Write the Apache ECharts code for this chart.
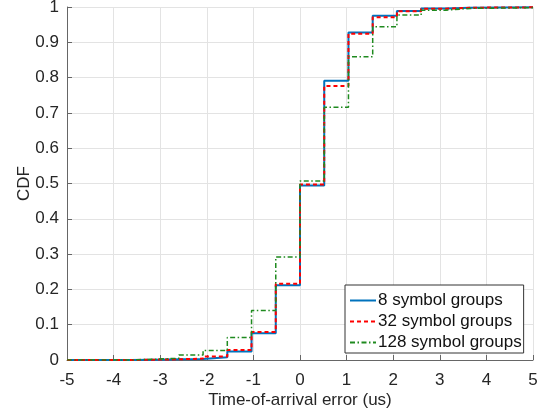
<!DOCTYPE html>
<html>
<head>
<meta charset="utf-8">
<script src="https://cdn.jsdelivr.net/npm/echarts@6/dist/echarts.min.js"></script>
<style>
  html, body { margin: 0; padding: 0; background: #fff; }
  #chart { width: 546px; height: 411px; }
</style>
</head>
<body>
<div id="chart"></div>
<script>
// step edges (us), each value holds from its edge until the next one
const stepEdges = [-5, -3.65, -3.13, -2.6, -2.08, -1.56, -1.04, -0.52, 0, 0.52, 1.04, 1.56, 2.08, 2.6, 3.13, 3.65, 5];
const cdf8 =   [0, 0.001, 0.002, 0.003, 0.008, 0.024, 0.076, 0.212, 0.494, 0.791, 0.928, 0.975, 0.989, 0.996, 0.998, 0.999, 1];
const cdf32 =  [0, 0.001, 0.002, 0.004, 0.010, 0.028, 0.079, 0.216, 0.497, 0.776, 0.924, 0.971, 0.988, 0.995, 0.998, 0.999, 1];
const cdf128 = [0, 0.002, 0.005, 0.014, 0.027, 0.064, 0.140, 0.292, 0.507, 0.716, 0.859, 0.944, 0.977, 0.991, 0.996, 0.998, 1];
const seriesNames = ['8 symbol groups', '32 symbol groups', '128 symbol groups'];
const xTicks = [-5, -4, -3, -2, -1, 0, 1, 2, 3, 4, 5];

const pairs = vals => stepEdges.map((x, i) => [x, vals[i]]);

const chart = echarts.init(document.getElementById('chart'));
const font = 'Liberation Sans, Arial, sans-serif';
const axisCol = '#666';
const txtCol = '#262626';

chart.setOption({
  animation: false,
  textStyle: { fontFamily: font },
  grid: { left: 67, right: 13, top: 7, bottom: 51, outerBoundsMode: 'none' },
  xAxis: {
    type: 'value', min: -5, max: 5, interval: 1,
    name: 'Time-of-arrival error (us)', nameLocation: 'middle', nameGap: 32, nameMoveOverlap: false,
    nameTextStyle: { fontSize: 17, color: txtCol },
    axisLine: { onZero: false, lineStyle: { color: axisCol } },
    axisTick: { inside: true, length: 5, lineStyle: { color: axisCol } },
    axisLabel: { fontSize: 17, color: txtCol, margin: 12, formatter: v => xTicks.includes(v) ? String(v) : '' },
    splitLine: { show: true, lineStyle: { color: '#e3e3e3' } }
  },
  yAxis: {
    type: 'value', min: 0, max: 1, interval: 0.1,
    name: 'CDF', nameLocation: 'middle', nameGap: 34, nameRotate: 90, nameMoveOverlap: false,
    nameTextStyle: { fontSize: 17, color: txtCol },
    axisLine: { show: true, onZero: false, lineStyle: { color: axisCol } },
    axisTick: { show: true, inside: true, length: 5, lineStyle: { color: axisCol } },
    axisLabel: { fontSize: 17, color: txtCol, margin: 8, formatter: v => String(Math.round(v * 10) / 10) },
    splitLine: { show: true, lineStyle: { color: '#e3e3e3' } }
  },
  legend: {
    orient: 'vertical', left: 345, top: 285,
    backgroundColor: '#fff', borderColor: '#333', borderWidth: 1, borderRadius: 0,
    padding: [7, 2, 2, 4], itemWidth: 26, itemHeight: 14, itemGap: 4,
    itemStyle: { opacity: 0 },
    textStyle: { fontSize: 17, color: '#111', padding: [0, 0, 0, -3] },
    data: seriesNames
  },
  series: [
    { name: seriesNames[0], type: 'line', step: 'end', showSymbol: false, symbol: 'none',
      data: pairs(cdf8), color: '#0072BD', lineStyle: { width: 2, color: '#0072BD' } },
    { name: seriesNames[1], type: 'line', step: 'end', showSymbol: false, symbol: 'none',
      data: pairs(cdf32), color: '#ff0000', lineStyle: { width: 2, type: [4, 3], color: '#ff0000' } },
    { name: seriesNames[2], type: 'line', step: 'end', showSymbol: false, symbol: 'none',
      data: pairs(cdf128), color: '#1f8a1f', lineStyle: { width: 1.5, type: [5, 2.5, 1.5, 2.5], color: '#1f8a1f' } }
  ]
});
</script>
</body>
</html>
